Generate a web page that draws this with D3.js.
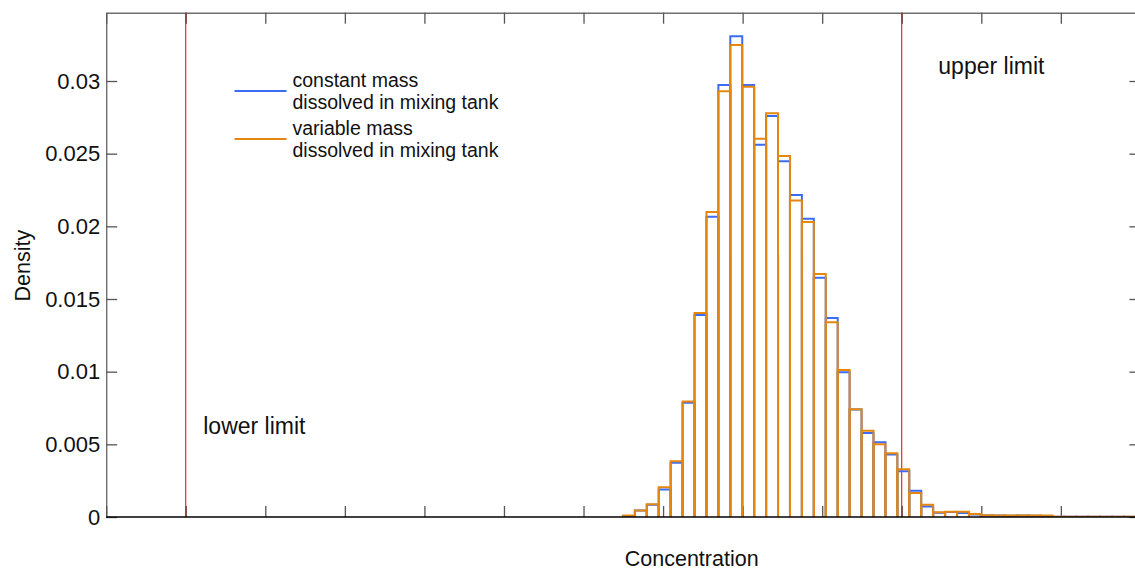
<!DOCTYPE html>
<html>
<head>
<meta charset="utf-8">
<script src="https://cdn.jsdelivr.net/npm/d3@7/dist/d3.min.js"></script>
<style>
  body { margin: 0; background: #fff; }
  svg { display: block; }
  text { font-family: "Liberation Sans", Arial, sans-serif; fill: #111; }
</style>
</head>
<body>
<svg id="chart" width="1135" height="572"></svg>
<script>
// Histogram binning (concentration units): first bin edge and bin width
const binStart = 6.495;
const binWidth = 0.15;

// Density per bin — constant mass dissolved in the mixing tank
const constantMass = [
  0.00006, 0.00045, 0.00085, 0.0019, 0.00374, 0.00786, 0.0139, 0.02066,
  0.02973, 0.03308, 0.02973, 0.02562, 0.0276, 0.02448, 0.02216, 0.02053,
  0.01647, 0.01369, 0.00996, 0.0074, 0.00578, 0.00514, 0.0043, 0.00314,
  0.00181, 0.00073, 0.0003, 0.00034, 0.00027, 0.00018, 0.0001, 0.0001,
  0.00009, 0.0001, 0.00009, 0.00003,
  0.00001, 0.00001, 0.00001, 0.00001, 0.00001, 0.00001, 0.00001, 0.00001
];

// Density per bin — variable mass dissolved in the mixing tank
const variableMass = [
  0.0001, 0.00045, 0.00087, 0.00204, 0.00383, 0.00795, 0.01404, 0.02099,
  0.0293, 0.03248, 0.02961, 0.02603, 0.02778, 0.02484, 0.02177, 0.0203,
  0.01672, 0.0134, 0.01012, 0.00741, 0.00594, 0.005, 0.00438, 0.00328,
  0.00165, 0.00085, 0.00032, 0.00036, 0.00036, 0.0002, 0.00012, 0.0001,
  0.0001, 0.0001, 0.0001, 0.0001,
  0.00002, 0.00002, 0.00002, 0.00002, 0.00002, 0.00002, 0.00002, 0.00002
];

const seriesNames = [
  ["constant mass", "dissolved in mixing tank"],
  ["variable mass", "dissolved in mixing tank"]
];
const seriesColors = ["#3a6cf5", "#e3870f"];

const yTicks = [0, 0.005, 0.01, 0.015, 0.02, 0.025, 0.03];
const yTickLabels = ["0", "0.005", "0.01", "0.015", "0.02", "0.025", "0.03"];
const xTicks = [0, 1, 2, 3, 4, 5, 6, 7, 8, 9, 10, 11, 12, 13];

const lowerLimit = 1;
const upperLimit = 10;

const svg = d3.select("#chart");

const x = d3.scaleLinear().domain([0, 13]).range([106.2, 1140.4]);
const y = d3.scaleLinear().domain([0, 0.0347]).range([517, 12.7]);

const [x0, x1] = x.range();
const [yb, yt] = y.range();

// clip for the plotting area
svg.append("defs").append("clipPath").attr("id", "plot")
  .append("rect").attr("x", x0).attr("y", yt).attr("width", x1 - x0).attr("height", yb - yt);

// inward ticks on all four sides
const axisStyle = (g, domainColor) => {
  g.select(".domain").attr("stroke", domainColor).attr("stroke-width", 1.4);
  g.selectAll(".tick line").attr("stroke", "#555").attr("stroke-width", 1.3);
};

svg.append("g").attr("transform", `translate(${x0},0)`)
  .call(d3.axisLeft(y).tickValues(yTicks).tickFormat((d, i) => yTickLabels[i])
    .tickSize(-11).tickSizeOuter(0).tickPadding(6))
  .call(g => axisStyle(g, "#6f6f6f"))
  .call(g => g.selectAll(".tick text")
    .attr("font-size", 22).attr("fill", "#111")
    .attr("font-family", "Liberation Sans, Arial, sans-serif"));

svg.append("g").attr("transform", `translate(${x1},0)`)
  .call(d3.axisRight(y).tickValues(yTicks).tickFormat("").tickSize(-11).tickSizeOuter(0))
  .call(g => axisStyle(g, "#6f6f6f"));

svg.append("g").attr("transform", `translate(0,${yt})`)
  .call(d3.axisTop(x).tickValues(xTicks).tickFormat("").tickSize(-11).tickSizeOuter(0))
  .call(g => axisStyle(g, "#6f6f6f"));

svg.append("g").attr("transform", `translate(0,${yb})`)
  .call(d3.axisBottom(x).tickValues(xTicks).tickFormat("").tickSize(-11).tickSizeOuter(0))
  .call(g => axisStyle(g, "#000"))
  .call(g => g.select(".domain").remove());

// specification limits
const limitG = svg.append("g");
[lowerLimit, upperLimit].forEach(v => {
  limitG.append("line")
    .attr("x1", x(v)).attr("x2", x(v)).attr("y1", yt).attr("y2", yb)
    .attr("stroke", "#e00000").attr("stroke-width", 1);
});
svg.append("text").attr("x", x(lowerLimit + 0.22)).attr("y", y(0.00572))
  .attr("font-size", 23).text("lower limit");
svg.append("text").attr("x", x(upperLimit + 0.46)).attr("y", y(0.0305))
  .attr("font-size", 23).text("upper limit");

// outlined histogram bars, open at the baseline
const barPath = (d, i) => {
  const a = x(binStart + i * binWidth), b = x(binStart + (i + 1) * binWidth);
  return `M${a},${y(0)}V${y(d)}H${b}V${y(0)}`;
};

const bars = svg.append("g").attr("clip-path", "url(#plot)");
[constantMass, variableMass].forEach((series, s) => {
  bars.append("g").selectAll("path").data(series).join("path")
    .attr("d", barPath)
    .attr("fill", "none")
    .attr("stroke", seriesColors[s])
    .attr("stroke-width", 2)
    .attr("stroke-linejoin", "miter");
});

// baseline drawn over the bars
svg.append("line").attr("x1", x0).attr("x2", x1).attr("y1", yb).attr("y2", yb)
  .attr("stroke", "#000").attr("stroke-width", 1.5);

// legend
const legend = svg.append("g").attr("transform", "translate(234.5,91)");
seriesNames.forEach((lines, i) => {
  const g = legend.append("g").attr("transform", `translate(0,${i * 48})`);
  g.append("line").attr("x1", 0).attr("x2", 52).attr("y1", 0).attr("y2", 0)
    .attr("stroke", seriesColors[i]).attr("stroke-width", 2);
  lines.forEach((t, j) => {
    g.append("text").attr("x", 58).attr("y", -4.5 + j * 22)
      .attr("font-size", 19.5).text(t);
  });
});

// axis titles
svg.append("text").attr("x", x(7.36)).attr("y", 566).attr("text-anchor", "middle")
  .attr("font-size", 21.5).text("Concentration");
svg.append("text").attr("transform", `translate(30,${y(0.0173)}) rotate(-90)`)
  .attr("text-anchor", "middle").attr("font-size", 21.5).text("Density");
</script>
</body>
</html>
